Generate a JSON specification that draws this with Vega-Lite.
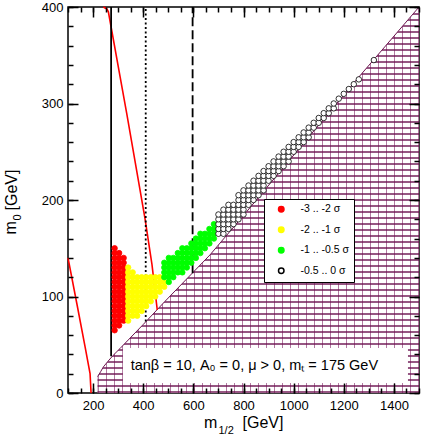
{
 "$schema": "https://vega.github.io/schema/vega-lite/v6.json",
 "width": 351, "height": 386,
 "autosize": {"type": "none"},
 "padding": {"left": 68, "top": 7, "right": 2, "bottom": 43},
 "background": "white",
 "config": {
  "font": "Liberation Sans",
  "view": {"stroke": "black", "strokeWidth": 1.5},
  "axis": {"grid": false, "domain": false, "ticks": true, "tickColor": "black", "tickWidth": 1.5, "tickOpacity": 1,
   "labelColor": "black", "labelFont": "Liberation Sans", "labelFontSize": 13, "titleFont": "Liberation Sans",
   "titleFontSize": 16, "titleFontWeight": "normal", "titleColor": "black", "titleAlign": "left",
   "titleBaseline": "alphabetic", "labelFlush": false, "labelOverlap": false}
 },
 "resolve": {"axis": {"x": "independent", "y": "independent"}},
 "datasets": {
  "bound": [
   {"x": 218, "y": 17}, {"x": 230, "y": 22}, {"x": 241, "y": 27}, {"x": 260, "y": 33}, {"x": 280, "y": 39},
   {"x": 307, "y": 46}, {"x": 400, "y": 71}, {"x": 487, "y": 95}, {"x": 666, "y": 143}, {"x": 800, "y": 184},
   {"x": 1018, "y": 252}, {"x": 1252, "y": 325}, {"x": 1500, "y": 400}
  ],
  "red": [
   {"id": 1, "i": 0, "x": 100, "y": 140}, {"id": 1, "i": 1, "x": 135, "y": 93}, {"id": 1, "i": 2, "x": 168, "y": 48},
   {"id": 1, "i": 3, "x": 188, "y": 20}, {"id": 1, "i": 4, "x": 192, "y": 0},
   {"id": 2, "i": 0, "x": 241, "y": 400}, {"id": 2, "i": 1, "x": 255, "y": 398}, {"id": 2, "i": 2, "x": 261, "y": 395},
   {"id": 2, "i": 3, "x": 334, "y": 290}, {"id": 2, "i": 4, "x": 407, "y": 181}, {"id": 2, "i": 5, "x": 435, "y": 133},
   {"id": 2, "i": 6, "x": 456, "y": 86}
  ],
  "vlines": [
   {"x": 272, "y": 38, "y2": 400, "t": "s"},
   {"x": 410, "y": 74, "y2": 400, "t": "o"},
   {"x": 597, "y": 124, "y2": 400, "t": "d"}
  ],
  "box": [{"x1": 319, "x2": 1456, "y1": 10.4, "y2": 46.6}],
  "lbl": [{"x": 350, "y": 23.8, "t": "tanβ = 10, A₀ = 0, μ > 0, mₜ = 175 GeV"}],
  "dots": [
   {"x":286,"y":65,"s":"a"},{"x":286,"y":70,"s":"a"},{"x":286,"y":75,"s":"a"},{"x":286,"y":80,"s":"a"},{"x":286,"y":85,"s":"a"},{"x":286,"y":90,"s":"a"},{"x":286,"y":95,"s":"a"},{"x":286,"y":100,"s":"a"},{"x":286,"y":105,"s":"a"},{"x":286,"y":110,"s":"a"},{"x":286,"y":115,"s":"a"},{"x":286,"y":120,"s":"a"},{"x":286,"y":125,"s":"a"},{"x":286,"y":130,"s":"a"},{"x":286,"y":135,"s":"a"},{"x":286,"y":140,"s":"a"},{"x":286,"y":145,"s":"a"},{"x":286,"y":150,"s":"a"},
   {"x":304,"y":70,"s":"a"},{"x":304,"y":75,"s":"a"},{"x":304,"y":80,"s":"a"},{"x":304,"y":85,"s":"a"},{"x":304,"y":90,"s":"a"},{"x":304,"y":95,"s":"a"},{"x":304,"y":100,"s":"a"},{"x":304,"y":105,"s":"a"},{"x":304,"y":110,"s":"a"},{"x":304,"y":115,"s":"a"},{"x":304,"y":120,"s":"a"},{"x":304,"y":125,"s":"a"},{"x":304,"y":130,"s":"a"},{"x":304,"y":135,"s":"a"},{"x":304,"y":140,"s":"a"},{"x":304,"y":145,"s":"a"},
   {"x":322,"y":75,"s":"a"},{"x":322,"y":80,"s":"a"},{"x":322,"y":85,"s":"a"},{"x":322,"y":90,"s":"a"},{"x":322,"y":95,"s":"a"},{"x":322,"y":100,"s":"a"},{"x":322,"y":105,"s":"a"},{"x":322,"y":110,"s":"a"},{"x":322,"y":115,"s":"a"},{"x":322,"y":120,"s":"a"},{"x":322,"y":125,"s":"a"},{"x":322,"y":130,"s":"a"},{"x":322,"y":135,"s":"a"},{"x":322,"y":140,"s":"a"},
   {"x":340,"y":75,"s":"b"},{"x":340,"y":80,"s":"b"},{"x":340,"y":85,"s":"b"},{"x":340,"y":90,"s":"b"},{"x":340,"y":95,"s":"b"},{"x":340,"y":100,"s":"b"},{"x":340,"y":105,"s":"b"},{"x":340,"y":110,"s":"b"},{"x":340,"y":115,"s":"b"},{"x":340,"y":120,"s":"b"},{"x":340,"y":125,"s":"b"},{"x":340,"y":130,"s":"b"},
   {"x":358,"y":80,"s":"b"},{"x":358,"y":85,"s":"b"},{"x":358,"y":90,"s":"b"},{"x":358,"y":95,"s":"b"},{"x":358,"y":100,"s":"b"},{"x":358,"y":105,"s":"b"},{"x":358,"y":110,"s":"b"},{"x":358,"y":115,"s":"b"},{"x":358,"y":120,"s":"b"},{"x":358,"y":125,"s":"b"},
   {"x":376,"y":80,"s":"b"},{"x":376,"y":85,"s":"b"},{"x":376,"y":90,"s":"b"},{"x":376,"y":95,"s":"b"},{"x":376,"y":100,"s":"b"},{"x":376,"y":105,"s":"b"},{"x":376,"y":110,"s":"b"},{"x":376,"y":115,"s":"b"},{"x":376,"y":120,"s":"b"},
   {"x":394,"y":85,"s":"b"},{"x":394,"y":90,"s":"b"},{"x":394,"y":95,"s":"b"},{"x":394,"y":100,"s":"b"},{"x":394,"y":105,"s":"b"},{"x":394,"y":110,"s":"b"},{"x":394,"y":115,"s":"b"},{"x":394,"y":120,"s":"b"},
   {"x":412,"y":90,"s":"b"},{"x":412,"y":95,"s":"b"},{"x":412,"y":100,"s":"b"},{"x":412,"y":105,"s":"b"},{"x":412,"y":110,"s":"b"},{"x":412,"y":115,"s":"b"},{"x":412,"y":120,"s":"b"},
   {"x":430,"y":95,"s":"b"},{"x":430,"y":100,"s":"b"},{"x":430,"y":105,"s":"b"},{"x":430,"y":110,"s":"b"},{"x":430,"y":115,"s":"b"},{"x":430,"y":120,"s":"b"},
   {"x":448,"y":100,"s":"b"},{"x":448,"y":105,"s":"b"},{"x":448,"y":110,"s":"b"},{"x":448,"y":115,"s":"b"},{"x":448,"y":120,"s":"b"},
   {"x":466,"y":105,"s":"b"},{"x":466,"y":110,"s":"b"},{"x":466,"y":115,"s":"b"},{"x":466,"y":120,"s":"b"},
   {"x":484,"y":110,"s":"b"},{"x":484,"y":115,"s":"b"},
   {"x":484,"y":120,"s":"c"},{"x":484,"y":125,"s":"c"},{"x":484,"y":130,"s":"c"},{"x":484,"y":135,"s":"c"},
   {"x":502,"y":115,"s":"c"},{"x":502,"y":120,"s":"c"},{"x":502,"y":125,"s":"c"},{"x":502,"y":130,"s":"c"},{"x":502,"y":135,"s":"c"},{"x":502,"y":140,"s":"c"},
   {"x":520,"y":120,"s":"c"},{"x":520,"y":125,"s":"c"},{"x":520,"y":130,"s":"c"},{"x":520,"y":135,"s":"c"},{"x":520,"y":140,"s":"c"},
   {"x":538,"y":125,"s":"c"},{"x":538,"y":130,"s":"c"},{"x":538,"y":135,"s":"c"},{"x":538,"y":140,"s":"c"},{"x":538,"y":145,"s":"c"},
   {"x":556,"y":125,"s":"c"},{"x":556,"y":130,"s":"c"},{"x":556,"y":135,"s":"c"},{"x":556,"y":140,"s":"c"},{"x":556,"y":145,"s":"c"},{"x":556,"y":150,"s":"c"},
   {"x":574,"y":130,"s":"c"},{"x":574,"y":135,"s":"c"},{"x":574,"y":140,"s":"c"},{"x":574,"y":145,"s":"c"},{"x":574,"y":150,"s":"c"},
   {"x":592,"y":135,"s":"c"},{"x":592,"y":140,"s":"c"},{"x":592,"y":145,"s":"c"},{"x":592,"y":150,"s":"c"},{"x":592,"y":155,"s":"c"},
   {"x":610,"y":140,"s":"c"},{"x":610,"y":145,"s":"c"},{"x":610,"y":150,"s":"c"},{"x":610,"y":155,"s":"c"},{"x":610,"y":160,"s":"c"},
   {"x":628,"y":145,"s":"c"},{"x":628,"y":150,"s":"c"},{"x":628,"y":155,"s":"c"},{"x":628,"y":160,"s":"c"},{"x":628,"y":165,"s":"c"},
   {"x":646,"y":150,"s":"c"},{"x":646,"y":155,"s":"c"},{"x":646,"y":160,"s":"c"},{"x":646,"y":165,"s":"c"},
   {"x":664,"y":155,"s":"c"},{"x":664,"y":160,"s":"c"},{"x":664,"y":165,"s":"c"},{"x":664,"y":170,"s":"c"},
   {"x":682,"y":160,"s":"c"},{"x":682,"y":165,"s":"c"},{"x":682,"y":170,"s":"c"},{"x":682,"y":175,"s":"c"},
   {"x":700,"y":165,"s":"d"},{"x":700,"y":170,"s":"d"},{"x":700,"y":175,"s":"d"},{"x":700,"y":180,"s":"d"},{"x":700,"y":185,"s":"d"},
   {"x":720,"y":165,"s":"d"},{"x":720,"y":170,"s":"d"},{"x":720,"y":175,"s":"d"},{"x":720,"y":180,"s":"d"},{"x":720,"y":185,"s":"d"},{"x":720,"y":190,"s":"d"},
   {"x":740,"y":170,"s":"d"},{"x":740,"y":175,"s":"d"},{"x":740,"y":180,"s":"d"},{"x":740,"y":185,"s":"d"},{"x":740,"y":190,"s":"d"},{"x":740,"y":195,"s":"d"},
   {"x":760,"y":175,"s":"d"},{"x":760,"y":180,"s":"d"},{"x":760,"y":185,"s":"d"},{"x":760,"y":190,"s":"d"},{"x":760,"y":195,"s":"d"},
   {"x":780,"y":180,"s":"d"},{"x":780,"y":185,"s":"d"},{"x":780,"y":190,"s":"d"},{"x":780,"y":195,"s":"d"},{"x":780,"y":200,"s":"d"},{"x":780,"y":205,"s":"d"},
   {"x":800,"y":185,"s":"d"},{"x":800,"y":190,"s":"d"},{"x":800,"y":195,"s":"d"},{"x":800,"y":200,"s":"d"},{"x":800,"y":205,"s":"d"},{"x":800,"y":210,"s":"d"},
   {"x":820,"y":195,"s":"d"},{"x":820,"y":200,"s":"d"},{"x":820,"y":205,"s":"d"},{"x":820,"y":210,"s":"d"},{"x":820,"y":215,"s":"d"},
   {"x":840,"y":200,"s":"d"},{"x":840,"y":205,"s":"d"},{"x":840,"y":210,"s":"d"},{"x":840,"y":215,"s":"d"},{"x":840,"y":220,"s":"d"},
   {"x":860,"y":205,"s":"d"},{"x":860,"y":210,"s":"d"},{"x":860,"y":215,"s":"d"},{"x":860,"y":220,"s":"d"},{"x":860,"y":225,"s":"d"},
   {"x":880,"y":210,"s":"d"},{"x":880,"y":215,"s":"d"},{"x":880,"y":220,"s":"d"},{"x":880,"y":225,"s":"d"},{"x":880,"y":230,"s":"d"},
   {"x":900,"y":220,"s":"d"},{"x":900,"y":225,"s":"d"},{"x":900,"y":230,"s":"d"},{"x":900,"y":235,"s":"d"},
   {"x":920,"y":225,"s":"d"},{"x":920,"y":230,"s":"d"},{"x":920,"y":235,"s":"d"},{"x":920,"y":240,"s":"d"},
   {"x":940,"y":230,"s":"d"},{"x":940,"y":235,"s":"d"},{"x":940,"y":240,"s":"d"},{"x":940,"y":245,"s":"d"},
   {"x":960,"y":235,"s":"d"},{"x":960,"y":240,"s":"d"},{"x":960,"y":245,"s":"d"},{"x":960,"y":250,"s":"d"},
   {"x":980,"y":240,"s":"d"},{"x":980,"y":245,"s":"d"},{"x":980,"y":250,"s":"d"},{"x":980,"y":255,"s":"d"},
   {"x":1000,"y":250,"s":"d"},{"x":1000,"y":255,"s":"d"},{"x":1000,"y":260,"s":"d"},
   {"x":1020,"y":255,"s":"d"},{"x":1020,"y":260,"s":"d"},{"x":1020,"y":265,"s":"d"},
   {"x":1040,"y":260,"s":"d"},{"x":1040,"y":265,"s":"d"},{"x":1040,"y":270,"s":"d"},
   {"x":1060,"y":265,"s":"d"},{"x":1060,"y":270,"s":"d"},{"x":1060,"y":275,"s":"d"},
   {"x":1080,"y":275,"s":"d"},{"x":1080,"y":280,"s":"d"},
   {"x":1100,"y":280,"s":"d"},{"x":1100,"y":285,"s":"d"},
   {"x":1120,"y":285,"s":"d"},{"x":1120,"y":290,"s":"d"},
   {"x":1140,"y":290,"s":"d"},{"x":1140,"y":295,"s":"d"},
   {"x":1160,"y":295,"s":"d"},{"x":1160,"y":300,"s":"d"},
   {"x":1180,"y":305,"s":"d"},{"x":1200,"y":310,"s":"d"},{"x":1220,"y":315,"s":"d"},{"x":1240,"y":320,"s":"d"},{"x":1260,"y":325,"s":"d"},
   {"x":1320,"y":345,"s":"d"}
  ]
 },
 "layer": [
  {
   "data": {"name": "bound"},
   "mark": {"type": "area", "fill": {"gradient": "linear", "x1": 0, "y1": 0, "x2": 1, "y2": 0, "stops": [
    {"offset":0,"color":"#b27aa2"},{"offset":0.0037,"color":"#b27aa2"},{"offset":0.0037,"color":"#fff"},{"offset":0.0249,"color":"#fff"},
    {"offset":0.0249,"color":"#b27aa2"},{"offset":0.0286,"color":"#b27aa2"},{"offset":0.0286,"color":"#fff"},{"offset":0.0498,"color":"#fff"},
    {"offset":0.0498,"color":"#b27aa2"},{"offset":0.0535,"color":"#b27aa2"},{"offset":0.0535,"color":"#fff"},{"offset":0.0747,"color":"#fff"},
    {"offset":0.0747,"color":"#b27aa2"},{"offset":0.0784,"color":"#b27aa2"},{"offset":0.0784,"color":"#fff"},{"offset":0.0996,"color":"#fff"},
    {"offset":0.0996,"color":"#b27aa2"},{"offset":0.1033,"color":"#b27aa2"},{"offset":0.1033,"color":"#fff"},{"offset":0.1245,"color":"#fff"},
    {"offset":0.1245,"color":"#b27aa2"},{"offset":0.1282,"color":"#b27aa2"},{"offset":0.1282,"color":"#fff"},{"offset":0.1494,"color":"#fff"},
    {"offset":0.1494,"color":"#b27aa2"},{"offset":0.1531,"color":"#b27aa2"},{"offset":0.1531,"color":"#fff"},{"offset":0.1743,"color":"#fff"},
    {"offset":0.1743,"color":"#b27aa2"},{"offset":0.1780,"color":"#b27aa2"},{"offset":0.1780,"color":"#fff"},{"offset":0.1992,"color":"#fff"},
    {"offset":0.1992,"color":"#b27aa2"},{"offset":0.2029,"color":"#b27aa2"},{"offset":0.2029,"color":"#fff"},{"offset":0.2241,"color":"#fff"},
    {"offset":0.2241,"color":"#b27aa2"},{"offset":0.2278,"color":"#b27aa2"},{"offset":0.2278,"color":"#fff"},{"offset":0.2490,"color":"#fff"},
    {"offset":0.2490,"color":"#b27aa2"},{"offset":0.2527,"color":"#b27aa2"},{"offset":0.2527,"color":"#fff"},{"offset":0.2739,"color":"#fff"},
    {"offset":0.2739,"color":"#b27aa2"},{"offset":0.2776,"color":"#b27aa2"},{"offset":0.2776,"color":"#fff"},{"offset":0.2988,"color":"#fff"},
    {"offset":0.2988,"color":"#b27aa2"},{"offset":0.3025,"color":"#b27aa2"},{"offset":0.3025,"color":"#fff"},{"offset":0.3237,"color":"#fff"},
    {"offset":0.3237,"color":"#b27aa2"},{"offset":0.3274,"color":"#b27aa2"},{"offset":0.3274,"color":"#fff"},{"offset":0.3486,"color":"#fff"},
    {"offset":0.3486,"color":"#b27aa2"},{"offset":0.3523,"color":"#b27aa2"},{"offset":0.3523,"color":"#fff"},{"offset":0.3735,"color":"#fff"},
    {"offset":0.3735,"color":"#b27aa2"},{"offset":0.3772,"color":"#b27aa2"},{"offset":0.3772,"color":"#fff"},{"offset":0.3984,"color":"#fff"},
    {"offset":0.3984,"color":"#b27aa2"},{"offset":0.4021,"color":"#b27aa2"},{"offset":0.4021,"color":"#fff"},{"offset":0.4233,"color":"#fff"},
    {"offset":0.4233,"color":"#b27aa2"},{"offset":0.4270,"color":"#b27aa2"},{"offset":0.4270,"color":"#fff"},{"offset":0.4482,"color":"#fff"},
    {"offset":0.4482,"color":"#b27aa2"},{"offset":0.4519,"color":"#b27aa2"},{"offset":0.4519,"color":"#fff"},{"offset":0.4731,"color":"#fff"},
    {"offset":0.4731,"color":"#b27aa2"},{"offset":0.4768,"color":"#b27aa2"},{"offset":0.4768,"color":"#fff"},{"offset":0.4980,"color":"#fff"},
    {"offset":0.4980,"color":"#b27aa2"},{"offset":0.5017,"color":"#b27aa2"},{"offset":0.5017,"color":"#fff"},{"offset":0.5229,"color":"#fff"},
    {"offset":0.5229,"color":"#b27aa2"},{"offset":0.5266,"color":"#b27aa2"},{"offset":0.5266,"color":"#fff"},{"offset":0.5478,"color":"#fff"},
    {"offset":0.5478,"color":"#b27aa2"},{"offset":0.5515,"color":"#b27aa2"},{"offset":0.5515,"color":"#fff"},{"offset":0.5727,"color":"#fff"},
    {"offset":0.5727,"color":"#b27aa2"},{"offset":0.5764,"color":"#b27aa2"},{"offset":0.5764,"color":"#fff"},{"offset":0.5976,"color":"#fff"},
    {"offset":0.5976,"color":"#b27aa2"},{"offset":0.6013,"color":"#b27aa2"},{"offset":0.6013,"color":"#fff"},{"offset":0.6225,"color":"#fff"},
    {"offset":0.6225,"color":"#b27aa2"},{"offset":0.6262,"color":"#b27aa2"},{"offset":0.6262,"color":"#fff"},{"offset":0.6474,"color":"#fff"},
    {"offset":0.6474,"color":"#b27aa2"},{"offset":0.6511,"color":"#b27aa2"},{"offset":0.6511,"color":"#fff"},{"offset":0.6723,"color":"#fff"},
    {"offset":0.6723,"color":"#b27aa2"},{"offset":0.6760,"color":"#b27aa2"},{"offset":0.6760,"color":"#fff"},{"offset":0.6972,"color":"#fff"},
    {"offset":0.6972,"color":"#b27aa2"},{"offset":0.7009,"color":"#b27aa2"},{"offset":0.7009,"color":"#fff"},{"offset":0.7221,"color":"#fff"},
    {"offset":0.7221,"color":"#b27aa2"},{"offset":0.7258,"color":"#b27aa2"},{"offset":0.7258,"color":"#fff"},{"offset":0.7470,"color":"#fff"},
    {"offset":0.7470,"color":"#b27aa2"},{"offset":0.7507,"color":"#b27aa2"},{"offset":0.7507,"color":"#fff"},{"offset":0.7719,"color":"#fff"},
    {"offset":0.7719,"color":"#b27aa2"},{"offset":0.7756,"color":"#b27aa2"},{"offset":0.7756,"color":"#fff"},{"offset":0.7968,"color":"#fff"},
    {"offset":0.7968,"color":"#b27aa2"},{"offset":0.8005,"color":"#b27aa2"},{"offset":0.8005,"color":"#fff"},{"offset":0.8217,"color":"#fff"},
    {"offset":0.8217,"color":"#b27aa2"},{"offset":0.8254,"color":"#b27aa2"},{"offset":0.8254,"color":"#fff"},{"offset":0.8466,"color":"#fff"},
    {"offset":0.8466,"color":"#b27aa2"},{"offset":0.8503,"color":"#b27aa2"},{"offset":0.8503,"color":"#fff"},{"offset":0.8715,"color":"#fff"},
    {"offset":0.8715,"color":"#b27aa2"},{"offset":0.8752,"color":"#b27aa2"},{"offset":0.8752,"color":"#fff"},{"offset":0.8964,"color":"#fff"},
    {"offset":0.8964,"color":"#b27aa2"},{"offset":0.9001,"color":"#b27aa2"},{"offset":0.9001,"color":"#fff"},{"offset":0.9213,"color":"#fff"},
    {"offset":0.9213,"color":"#b27aa2"},{"offset":0.9250,"color":"#b27aa2"},{"offset":0.9250,"color":"#fff"},{"offset":0.9462,"color":"#fff"},
    {"offset":0.9462,"color":"#b27aa2"},{"offset":0.9499,"color":"#b27aa2"},{"offset":0.9499,"color":"#fff"},{"offset":0.9711,"color":"#fff"},
    {"offset":0.9711,"color":"#b27aa2"},{"offset":0.9748,"color":"#b27aa2"},{"offset":0.9748,"color":"#fff"},{"offset":0.9960,"color":"#fff"},
    {"offset":0.9960,"color":"#b27aa2"},{"offset":0.9997,"color":"#b27aa2"},{"offset":0.9997,"color":"#fff"},{"offset":1,"color":"#fff"}
   ]}},
   "encoding": {
    "x": {"field": "x", "type": "quantitative", "scale": {"domain": [100, 1500], "nice": false, "zero": false},
     "axis": {"orient": "bottom", "offset": -10, "values": [200, 400, 600, 800, 1000, 1200, 1400], "tickSize": 10, "labelPadding": 6,
      "format": "d", "zindex": 1, "title": "m", "titleX": 135.5, "titleY": 44, "titleAngle": 0}},
    "y": {"field": "y", "type": "quantitative", "scale": {"domain": [0, 400], "nice": false, "zero": false},
     "axis": {"orient": "left", "offset": -10, "values": [0, 100, 200, 300, 400], "tickSize": 10, "labelPadding": 5,
      "format": "d", "zindex": 1, "title": "m", "titleX": -63, "titleY": 227, "titleAngle": -90}},
    "y2": {"datum": 0}
   }
  },
  {
   "data": {"name": "bound"},
   "mark": {"type": "area", "line": {"color": "#6d1550", "strokeWidth": 1}, "fill": {"gradient": "linear", "x1": 0, "y1": 0, "x2": 0, "y2": 1, "stops": [
    {"offset":0,"color":"#6a0f4e"},{"offset":0.0041,"color":"#6a0f4e"},{"offset":0.0041,"color":"rgba(255,255,255,0)"},{"offset":0.0155,"color":"rgba(255,255,255,0)"},
    {"offset":0.0155,"color":"#6a0f4e"},{"offset":0.0196,"color":"#6a0f4e"},{"offset":0.0196,"color":"rgba(255,255,255,0)"},{"offset":0.0311,"color":"rgba(255,255,255,0)"},
    {"offset":0.0311,"color":"#6a0f4e"},{"offset":0.0352,"color":"#6a0f4e"},{"offset":0.0352,"color":"rgba(255,255,255,0)"},{"offset":0.0466,"color":"rgba(255,255,255,0)"},
    {"offset":0.0466,"color":"#6a0f4e"},{"offset":0.0507,"color":"#6a0f4e"},{"offset":0.0507,"color":"rgba(255,255,255,0)"},{"offset":0.0622,"color":"rgba(255,255,255,0)"},
    {"offset":0.0622,"color":"#6a0f4e"},{"offset":0.0663,"color":"#6a0f4e"},{"offset":0.0663,"color":"rgba(255,255,255,0)"},{"offset":0.0777,"color":"rgba(255,255,255,0)"},
    {"offset":0.0777,"color":"#6a0f4e"},{"offset":0.0818,"color":"#6a0f4e"},{"offset":0.0818,"color":"rgba(255,255,255,0)"},{"offset":0.0933,"color":"rgba(255,255,255,0)"},
    {"offset":0.0933,"color":"#6a0f4e"},{"offset":0.0974,"color":"#6a0f4e"},{"offset":0.0974,"color":"rgba(255,255,255,0)"},{"offset":0.1088,"color":"rgba(255,255,255,0)"},
    {"offset":0.1088,"color":"#6a0f4e"},{"offset":0.1129,"color":"#6a0f4e"},{"offset":0.1129,"color":"rgba(255,255,255,0)"},{"offset":0.1244,"color":"rgba(255,255,255,0)"},
    {"offset":0.1244,"color":"#6a0f4e"},{"offset":0.1285,"color":"#6a0f4e"},{"offset":0.1285,"color":"rgba(255,255,255,0)"},{"offset":0.1399,"color":"rgba(255,255,255,0)"},
    {"offset":0.1399,"color":"#6a0f4e"},{"offset":0.1440,"color":"#6a0f4e"},{"offset":0.1440,"color":"rgba(255,255,255,0)"},{"offset":0.1554,"color":"rgba(255,255,255,0)"},
    {"offset":0.1554,"color":"#6a0f4e"},{"offset":0.1595,"color":"#6a0f4e"},{"offset":0.1595,"color":"rgba(255,255,255,0)"},{"offset":0.1710,"color":"rgba(255,255,255,0)"},
    {"offset":0.1710,"color":"#6a0f4e"},{"offset":0.1751,"color":"#6a0f4e"},{"offset":0.1751,"color":"rgba(255,255,255,0)"},{"offset":0.1865,"color":"rgba(255,255,255,0)"},
    {"offset":0.1865,"color":"#6a0f4e"},{"offset":0.1906,"color":"#6a0f4e"},{"offset":0.1906,"color":"rgba(255,255,255,0)"},{"offset":0.2021,"color":"rgba(255,255,255,0)"},
    {"offset":0.2021,"color":"#6a0f4e"},{"offset":0.2062,"color":"#6a0f4e"},{"offset":0.2062,"color":"rgba(255,255,255,0)"},{"offset":0.2176,"color":"rgba(255,255,255,0)"},
    {"offset":0.2176,"color":"#6a0f4e"},{"offset":0.2217,"color":"#6a0f4e"},{"offset":0.2217,"color":"rgba(255,255,255,0)"},{"offset":0.2332,"color":"rgba(255,255,255,0)"},
    {"offset":0.2332,"color":"#6a0f4e"},{"offset":0.2373,"color":"#6a0f4e"},{"offset":0.2373,"color":"rgba(255,255,255,0)"},{"offset":0.2487,"color":"rgba(255,255,255,0)"},
    {"offset":0.2487,"color":"#6a0f4e"},{"offset":0.2528,"color":"#6a0f4e"},{"offset":0.2528,"color":"rgba(255,255,255,0)"},{"offset":0.2642,"color":"rgba(255,255,255,0)"},
    {"offset":0.2642,"color":"#6a0f4e"},{"offset":0.2683,"color":"#6a0f4e"},{"offset":0.2683,"color":"rgba(255,255,255,0)"},{"offset":0.2798,"color":"rgba(255,255,255,0)"},
    {"offset":0.2798,"color":"#6a0f4e"},{"offset":0.2839,"color":"#6a0f4e"},{"offset":0.2839,"color":"rgba(255,255,255,0)"},{"offset":0.2953,"color":"rgba(255,255,255,0)"},
    {"offset":0.2953,"color":"#6a0f4e"},{"offset":0.2994,"color":"#6a0f4e"},{"offset":0.2994,"color":"rgba(255,255,255,0)"},{"offset":0.3109,"color":"rgba(255,255,255,0)"},
    {"offset":0.3109,"color":"#6a0f4e"},{"offset":0.3150,"color":"#6a0f4e"},{"offset":0.3150,"color":"rgba(255,255,255,0)"},{"offset":0.3264,"color":"rgba(255,255,255,0)"},
    {"offset":0.3264,"color":"#6a0f4e"},{"offset":0.3305,"color":"#6a0f4e"},{"offset":0.3305,"color":"rgba(255,255,255,0)"},{"offset":0.3420,"color":"rgba(255,255,255,0)"},
    {"offset":0.3420,"color":"#6a0f4e"},{"offset":0.3461,"color":"#6a0f4e"},{"offset":0.3461,"color":"rgba(255,255,255,0)"},{"offset":0.3575,"color":"rgba(255,255,255,0)"},
    {"offset":0.3575,"color":"#6a0f4e"},{"offset":0.3616,"color":"#6a0f4e"},{"offset":0.3616,"color":"rgba(255,255,255,0)"},{"offset":0.3731,"color":"rgba(255,255,255,0)"},
    {"offset":0.3731,"color":"#6a0f4e"},{"offset":0.3772,"color":"#6a0f4e"},{"offset":0.3772,"color":"rgba(255,255,255,0)"},{"offset":0.3886,"color":"rgba(255,255,255,0)"},
    {"offset":0.3886,"color":"#6a0f4e"},{"offset":0.3927,"color":"#6a0f4e"},{"offset":0.3927,"color":"rgba(255,255,255,0)"},{"offset":0.4041,"color":"rgba(255,255,255,0)"},
    {"offset":0.4041,"color":"#6a0f4e"},{"offset":0.4082,"color":"#6a0f4e"},{"offset":0.4082,"color":"rgba(255,255,255,0)"},{"offset":0.4197,"color":"rgba(255,255,255,0)"},
    {"offset":0.4197,"color":"#6a0f4e"},{"offset":0.4238,"color":"#6a0f4e"},{"offset":0.4238,"color":"rgba(255,255,255,0)"},{"offset":0.4352,"color":"rgba(255,255,255,0)"},
    {"offset":0.4352,"color":"#6a0f4e"},{"offset":0.4393,"color":"#6a0f4e"},{"offset":0.4393,"color":"rgba(255,255,255,0)"},{"offset":0.4508,"color":"rgba(255,255,255,0)"},
    {"offset":0.4508,"color":"#6a0f4e"},{"offset":0.4549,"color":"#6a0f4e"},{"offset":0.4549,"color":"rgba(255,255,255,0)"},{"offset":0.4663,"color":"rgba(255,255,255,0)"},
    {"offset":0.4663,"color":"#6a0f4e"},{"offset":0.4704,"color":"#6a0f4e"},{"offset":0.4704,"color":"rgba(255,255,255,0)"},{"offset":0.4819,"color":"rgba(255,255,255,0)"},
    {"offset":0.4819,"color":"#6a0f4e"},{"offset":0.4860,"color":"#6a0f4e"},{"offset":0.4860,"color":"rgba(255,255,255,0)"},{"offset":0.4974,"color":"rgba(255,255,255,0)"},
    {"offset":0.4974,"color":"#6a0f4e"},{"offset":0.5015,"color":"#6a0f4e"},{"offset":0.5015,"color":"rgba(255,255,255,0)"},{"offset":0.5130,"color":"rgba(255,255,255,0)"},
    {"offset":0.5130,"color":"#6a0f4e"},{"offset":0.5171,"color":"#6a0f4e"},{"offset":0.5171,"color":"rgba(255,255,255,0)"},{"offset":0.5285,"color":"rgba(255,255,255,0)"},
    {"offset":0.5285,"color":"#6a0f4e"},{"offset":0.5326,"color":"#6a0f4e"},{"offset":0.5326,"color":"rgba(255,255,255,0)"},{"offset":0.5440,"color":"rgba(255,255,255,0)"},
    {"offset":0.5440,"color":"#6a0f4e"},{"offset":0.5481,"color":"#6a0f4e"},{"offset":0.5481,"color":"rgba(255,255,255,0)"},{"offset":0.5596,"color":"rgba(255,255,255,0)"},
    {"offset":0.5596,"color":"#6a0f4e"},{"offset":0.5637,"color":"#6a0f4e"},{"offset":0.5637,"color":"rgba(255,255,255,0)"},{"offset":0.5751,"color":"rgba(255,255,255,0)"},
    {"offset":0.5751,"color":"#6a0f4e"},{"offset":0.5792,"color":"#6a0f4e"},{"offset":0.5792,"color":"rgba(255,255,255,0)"},{"offset":0.5907,"color":"rgba(255,255,255,0)"},
    {"offset":0.5907,"color":"#6a0f4e"},{"offset":0.5948,"color":"#6a0f4e"},{"offset":0.5948,"color":"rgba(255,255,255,0)"},{"offset":0.6062,"color":"rgba(255,255,255,0)"},
    {"offset":0.6062,"color":"#6a0f4e"},{"offset":0.6103,"color":"#6a0f4e"},{"offset":0.6103,"color":"rgba(255,255,255,0)"},{"offset":0.6218,"color":"rgba(255,255,255,0)"},
    {"offset":0.6218,"color":"#6a0f4e"},{"offset":0.6259,"color":"#6a0f4e"},{"offset":0.6259,"color":"rgba(255,255,255,0)"},{"offset":0.6373,"color":"rgba(255,255,255,0)"},
    {"offset":0.6373,"color":"#6a0f4e"},{"offset":0.6414,"color":"#6a0f4e"},{"offset":0.6414,"color":"rgba(255,255,255,0)"},{"offset":0.6528,"color":"rgba(255,255,255,0)"},
    {"offset":0.6528,"color":"#6a0f4e"},{"offset":0.6569,"color":"#6a0f4e"},{"offset":0.6569,"color":"rgba(255,255,255,0)"},{"offset":0.6684,"color":"rgba(255,255,255,0)"},
    {"offset":0.6684,"color":"#6a0f4e"},{"offset":0.6725,"color":"#6a0f4e"},{"offset":0.6725,"color":"rgba(255,255,255,0)"},{"offset":0.6839,"color":"rgba(255,255,255,0)"},
    {"offset":0.6839,"color":"#6a0f4e"},{"offset":0.6880,"color":"#6a0f4e"},{"offset":0.6880,"color":"rgba(255,255,255,0)"},{"offset":0.6995,"color":"rgba(255,255,255,0)"},
    {"offset":0.6995,"color":"#6a0f4e"},{"offset":0.7036,"color":"#6a0f4e"},{"offset":0.7036,"color":"rgba(255,255,255,0)"},{"offset":0.7150,"color":"rgba(255,255,255,0)"},
    {"offset":0.7150,"color":"#6a0f4e"},{"offset":0.7191,"color":"#6a0f4e"},{"offset":0.7191,"color":"rgba(255,255,255,0)"},{"offset":0.7306,"color":"rgba(255,255,255,0)"},
    {"offset":0.7306,"color":"#6a0f4e"},{"offset":0.7347,"color":"#6a0f4e"},{"offset":0.7347,"color":"rgba(255,255,255,0)"},{"offset":0.7461,"color":"rgba(255,255,255,0)"},
    {"offset":0.7461,"color":"#6a0f4e"},{"offset":0.7502,"color":"#6a0f4e"},{"offset":0.7502,"color":"rgba(255,255,255,0)"},{"offset":0.7617,"color":"rgba(255,255,255,0)"},
    {"offset":0.7617,"color":"#6a0f4e"},{"offset":0.7658,"color":"#6a0f4e"},{"offset":0.7658,"color":"rgba(255,255,255,0)"},{"offset":0.7772,"color":"rgba(255,255,255,0)"},
    {"offset":0.7772,"color":"#6a0f4e"},{"offset":0.7813,"color":"#6a0f4e"},{"offset":0.7813,"color":"rgba(255,255,255,0)"},{"offset":0.7927,"color":"rgba(255,255,255,0)"},
    {"offset":0.7927,"color":"#6a0f4e"},{"offset":0.7968,"color":"#6a0f4e"},{"offset":0.7968,"color":"rgba(255,255,255,0)"},{"offset":0.8083,"color":"rgba(255,255,255,0)"},
    {"offset":0.8083,"color":"#6a0f4e"},{"offset":0.8124,"color":"#6a0f4e"},{"offset":0.8124,"color":"rgba(255,255,255,0)"},{"offset":0.8238,"color":"rgba(255,255,255,0)"},
    {"offset":0.8238,"color":"#6a0f4e"},{"offset":0.8279,"color":"#6a0f4e"},{"offset":0.8279,"color":"rgba(255,255,255,0)"},{"offset":0.8394,"color":"rgba(255,255,255,0)"},
    {"offset":0.8394,"color":"#6a0f4e"},{"offset":0.8435,"color":"#6a0f4e"},{"offset":0.8435,"color":"rgba(255,255,255,0)"},{"offset":0.8549,"color":"rgba(255,255,255,0)"},
    {"offset":0.8549,"color":"#6a0f4e"},{"offset":0.8590,"color":"#6a0f4e"},{"offset":0.8590,"color":"rgba(255,255,255,0)"},{"offset":0.8705,"color":"rgba(255,255,255,0)"},
    {"offset":0.8705,"color":"#6a0f4e"},{"offset":0.8746,"color":"#6a0f4e"},{"offset":0.8746,"color":"rgba(255,255,255,0)"},{"offset":0.8860,"color":"rgba(255,255,255,0)"},
    {"offset":0.8860,"color":"#6a0f4e"},{"offset":0.8901,"color":"#6a0f4e"},{"offset":0.8901,"color":"rgba(255,255,255,0)"},{"offset":0.9016,"color":"rgba(255,255,255,0)"},
    {"offset":0.9016,"color":"#6a0f4e"},{"offset":0.9057,"color":"#6a0f4e"},{"offset":0.9057,"color":"rgba(255,255,255,0)"},{"offset":0.9171,"color":"rgba(255,255,255,0)"},
    {"offset":0.9171,"color":"#6a0f4e"},{"offset":0.9212,"color":"#6a0f4e"},{"offset":0.9212,"color":"rgba(255,255,255,0)"},{"offset":0.9326,"color":"rgba(255,255,255,0)"},
    {"offset":0.9326,"color":"#6a0f4e"},{"offset":0.9367,"color":"#6a0f4e"},{"offset":0.9367,"color":"rgba(255,255,255,0)"},{"offset":0.9482,"color":"rgba(255,255,255,0)"},
    {"offset":0.9482,"color":"#6a0f4e"},{"offset":0.9523,"color":"#6a0f4e"},{"offset":0.9523,"color":"rgba(255,255,255,0)"},{"offset":0.9637,"color":"rgba(255,255,255,0)"},
    {"offset":0.9637,"color":"#6a0f4e"},{"offset":0.9678,"color":"#6a0f4e"},{"offset":0.9678,"color":"rgba(255,255,255,0)"},{"offset":0.9793,"color":"rgba(255,255,255,0)"},
    {"offset":0.9793,"color":"#6a0f4e"},{"offset":0.9834,"color":"#6a0f4e"},{"offset":0.9834,"color":"rgba(255,255,255,0)"},{"offset":0.9948,"color":"rgba(255,255,255,0)"},
    {"offset":0.9948,"color":"#6a0f4e"},{"offset":0.9989,"color":"#6a0f4e"},{"offset":0.9989,"color":"rgba(255,255,255,0)"},{"offset":1,"color":"rgba(255,255,255,0)"}
   ]}},
   "encoding": {
    "x": {"field": "x", "type": "quantitative",
     "axis": {"orient": "bottom", "offset": -5, "values": [100,150,200,250,300,350,400,450,500,550,600,650,700,750,800,850,900,950,1000,1050,1100,1150,1200,1250,1300,1350,1400,1450,1500],
      "tickSize": 5, "labels": false, "zindex": 1, "title": "1/2", "titleFontSize": 11, "titleX": 150, "titleY": 45, "titleAngle": 0}},
    "y": {"field": "y", "type": "quantitative",
     "axis": {"orient": "left", "offset": -5, "values": [0,20,40,60,80,100,120,140,160,180,200,220,240,260,280,300,320,340,360,380,400],
      "tickSize": 5, "labels": false, "zindex": 1, "title": "0", "titleFontSize": 11, "titleX": -53, "titleY": 213, "titleAngle": -90}},
    "y2": {"datum": 0}
   }
  },
  {
   "data": {"name": "red"},
   "mark": {"type": "line", "color": "#ff0000", "strokeWidth": 1.6},
   "encoding": {
    "x": {"field": "x", "type": "quantitative",
     "axis": {"orient": "top", "offset": -10, "values": [200, 400, 600, 800, 1000, 1200, 1400], "tickSize": 10, "labels": false,
      "zindex": 1, "title": "[GeV]", "titleX": 174, "titleY": 410, "titleAngle": 0}},
    "y": {"field": "y", "type": "quantitative",
     "axis": {"orient": "right", "offset": -10, "values": [0, 100, 200, 300, 400], "tickSize": 10, "labels": false,
      "zindex": 1, "title": "[GeV]", "titleX": -393, "titleY": 203, "titleAngle": -90}},
    "detail": {"field": "id"},
    "order": {"field": "i"}
   }
  },
  {
   "data": {"name": "vlines"},
   "mark": {"type": "rule", "color": "black", "strokeWidth": 1.8},
   "encoding": {
    "x": {"field": "x", "type": "quantitative",
     "axis": {"orient": "top", "offset": -5, "values": [100,150,200,250,300,350,400,450,500,550,600,650,700,750,800,850,900,950,1000,1050,1100,1150,1200,1250,1300,1350,1400,1450,1500],
      "tickSize": 5, "labels": false, "zindex": 1, "title": null}},
    "y": {"field": "y", "type": "quantitative",
     "axis": {"orient": "right", "offset": -5, "values": [0,20,40,60,80,100,120,140,160,180,200,220,240,260,280,300,320,340,360,380,400],
      "tickSize": 5, "labels": false, "zindex": 1, "title": null}},
    "y2": {"field": "y2"},
    "strokeDash": {"field": "t", "type": "nominal", "scale": {"domain": ["s", "d", "o"], "range": [[1, 0], [9, 4], [2, 2.5]]}, "legend": null}
   }
  },
  {
   "data": {"name": "dots"},
   "mark": {"type": "point", "shape": "circle", "filled": true, "strokeWidth": 0.8, "opacity": 1},
   "encoding": {
    "x": {"field": "x", "type": "quantitative", "axis": null},
    "y": {"field": "y", "type": "quantitative", "axis": null},
    "fill": {"field": "s", "type": "nominal", "scale": {"domain": ["a", "b", "c", "d"], "range": ["#ff0000", "#ffff00", "#00ff00", "#ffffff"]},
     "legend": {"orient": "none", "legendX": 196, "legendY": 192, "title": null, "fillColor": "white", "strokeColor": "black", "padding": 5,
      "labelFont": "Liberation Sans", "labelFontSize": 10.5, "labelColor": "black", "labelOffset": 14, "symbolOffset": 7, "rowPadding": 8.5,
      "labelExpr": "{'a': '-3 .. -2 σ', 'b': '-2 .. -1 σ', 'c': '-1 .. -0.5 σ', 'd': '-0.5 .. 0 σ'}[datum.label]"}},
    "stroke": {"field": "s", "type": "nominal", "scale": {"domain": ["a", "b", "c", "d"], "range": ["#ff0000", "#ffff00", "#00ff00", "#000000"]},
     "legend": {"orient": "none", "legendX": 196, "legendY": 192, "title": null, "fillColor": "white", "strokeColor": "black", "padding": 5,
      "labelFont": "Liberation Sans", "labelFontSize": 10.5, "labelColor": "black", "labelOffset": 14, "symbolOffset": 7, "rowPadding": 8.5,
      "labelExpr": "{'a': '-3 .. -2 σ', 'b': '-2 .. -1 σ', 'c': '-1 .. -0.5 σ', 'd': '-0.5 .. 0 σ'}[datum.label]"}},
    "size": {"field": "s", "type": "nominal", "scale": {"domain": ["a", "b", "c", "d"], "range": [30, 30, 30, 13]},
     "legend": {"orient": "none", "legendX": 196, "legendY": 192, "title": null, "fillColor": "white", "strokeColor": "black", "padding": 5,
      "labelFont": "Liberation Sans", "labelFontSize": 10.5, "labelColor": "black", "labelOffset": 14, "symbolOffset": 7, "rowPadding": 8.5,
      "labelExpr": "{'a': '-3 .. -2 σ', 'b': '-2 .. -1 σ', 'c': '-1 .. -0.5 σ', 'd': '-0.5 .. 0 σ'}[datum.label]"}}
   }
  },
  {
   "data": {"name": "box"},
   "mark": {"type": "rect", "fill": "white"},
   "encoding": {
    "x": {"field": "x1", "type": "quantitative", "axis": null},
    "x2": {"field": "x2"},
    "y": {"field": "y1", "type": "quantitative", "axis": null},
    "y2": {"field": "y2"}
   }
  },
  {
   "data": {"name": "lbl"},
   "mark": {"type": "text", "align": "left", "baseline": "alphabetic", "fontSize": 14.5, "font": "Liberation Sans", "color": "black"},
   "encoding": {
    "x": {"field": "x", "type": "quantitative", "axis": null},
    "y": {"field": "y", "type": "quantitative", "axis": null},
    "text": {"field": "t"}
   }
  }
 ]
}
